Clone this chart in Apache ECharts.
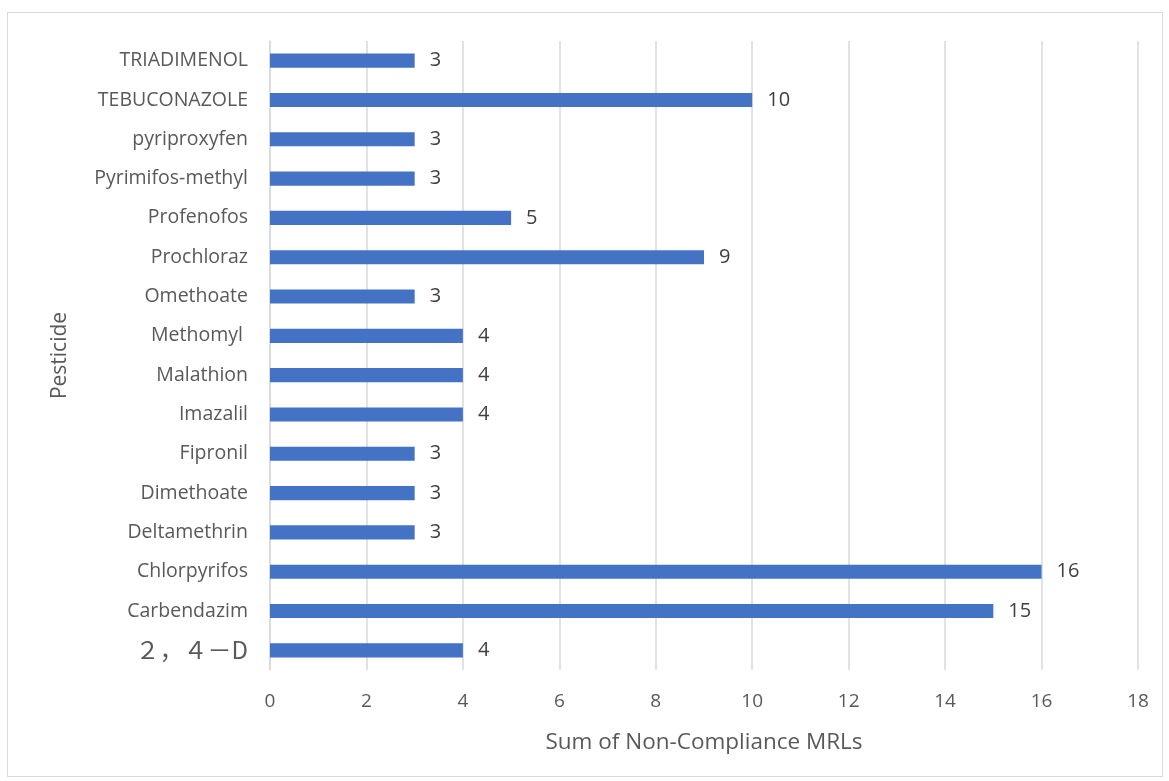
<!DOCTYPE html>
<html>
<head>
<meta charset="utf-8">
<script src="https://cdn.jsdelivr.net/npm/echarts@6/dist/echarts.min.js"></script>
<style>
  html, body { margin: 0; padding: 0; background: #fff; }
  #frame { position: absolute; left: 7px; top: 12px; width: 1156px; height: 765px; border: 1px solid #d9d9d9; box-sizing: border-box; }
  #chart { position: absolute; left: 0; top: 0; width: 1169px; height: 781px; }
</style>
</head>
<body>
<div id="frame"></div>
<div id="chart"></div>
<script>
// Pesticides listed bottom to top, as drawn on the category axis
const pesticides = [
  '２，４－D', 'Carbendazim', 'Chlorpyrifos', 'Deltamethrin', 'Dimethoate',
  'Fipronil', 'Imazalil', 'Malathion', 'Methomyl ', 'Omethoate',
  'Prochloraz', 'Profenofos', 'Pyrimifos-methyl', 'pyriproxyfen',
  'TEBUCONAZOLE', 'TRIADIMENOL'
];
const nonCompliance = [4, 15, 16, 3, 3, 3, 4, 4, 4, 3, 9, 5, 3, 3, 10, 3];
const xTicks = { min: 0, max: 18, interval: 2 };

const font = '"Open Sans", "Noto Sans CJK SC", sans-serif';
const fullWidth = /[\uFF00-\uFFEF]/;

const chart = echarts.init(document.getElementById('chart'), null, { renderer: 'canvas' });
chart.setOption({
  animation: false,
  grid: { left: 270, right: 31, top: 41, bottom: 111, containLabel: false },
  xAxis: {
    type: 'value',
    min: xTicks.min, max: xTicks.max, interval: xTicks.interval,
    name: 'Sum of Non-Compliance MRLs',
    nameLocation: 'middle', nameGap: 61,
    nameTextStyle: { fontFamily: font, fontSize: 22.5, color: '#595959' },
    axisLine: { show: false }, axisTick: { show: false },
    axisLabel: { fontFamily: font, fontSize: 19, color: '#595959', margin: 22 },
    splitLine: { lineStyle: { color: '#d9d9d9', width: 1.5 } }
  },
  yAxis: {
    type: 'category',
    data: pesticides,
    name: 'Pesticide',
    nameLocation: 'middle', nameGap: 199,
    nameTextStyle: { fontFamily: font, fontSize: 21, color: '#595959' },
    axisLine: { show: true, lineStyle: { color: '#d9d9d9', width: 1.5 } },
    axisTick: { show: false },
    axisLabel: {
      fontFamily: font, fontSize: 19.5, color: '#595959', margin: 22,
      // full-width names are set in a wider CJK face
      formatter: (v) => fullWidth.test(v) ? '{fw|' + v + '}' : v,
      rich: { fw: { fontFamily: '"Noto Sans CJK JP", sans-serif', fontSize: 24, color: '#595959' } }
    },
    splitLine: { show: false }
  },
  series: [{
    type: 'bar',
    data: nonCompliance,
    barWidth: '36%',
    itemStyle: { color: '#4472c4' },
    label: {
      show: true, position: 'right', distance: 15,
      fontFamily: font, fontSize: 20, color: '#404040'
    }
  }]
});
</script>
</body>
</html>
